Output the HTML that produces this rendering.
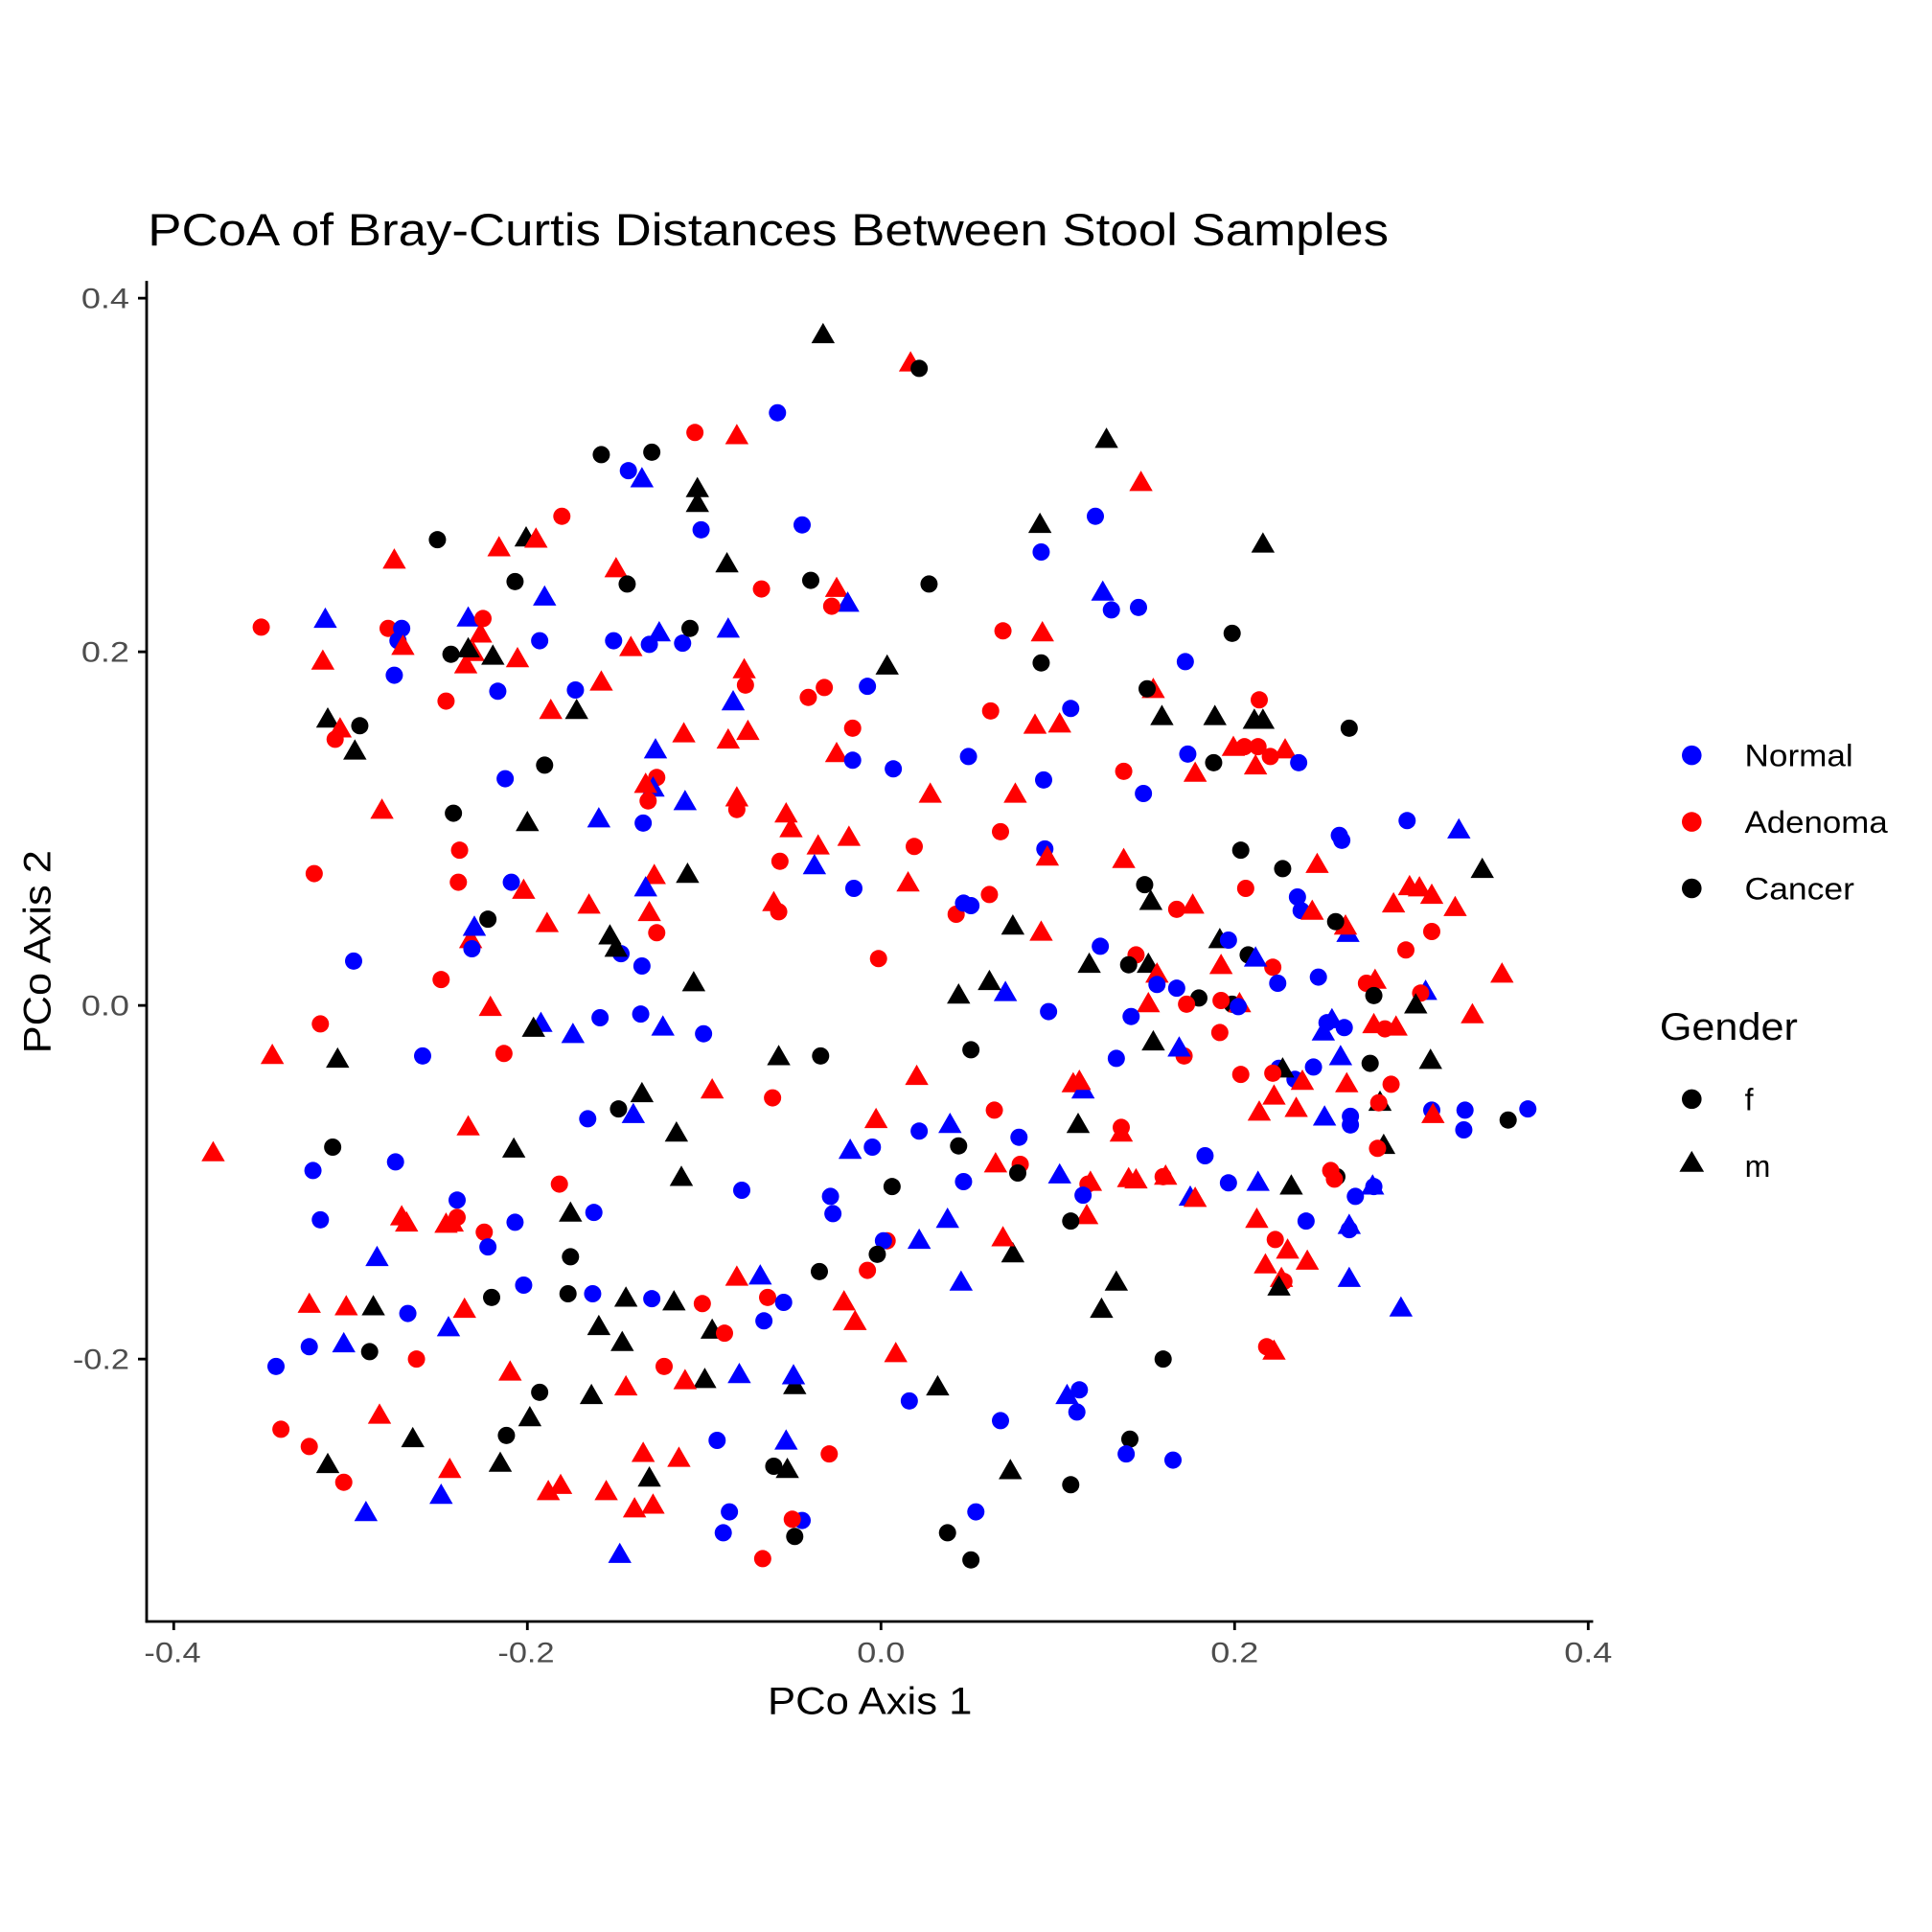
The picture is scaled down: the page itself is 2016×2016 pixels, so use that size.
<!DOCTYPE html>
<html><head><meta charset="utf-8"><style>
html,body{margin:0;padding:0;background:#fff;}
svg{display:block;}
text{font-family:"Liberation Sans",Arial,sans-serif;}
</style></head><body>
<svg id="s" width="2016" height="2016" viewBox="0 0 1568 1568" xmlns="http://www.w3.org/2000/svg">
<rect width="1568" height="1568" fill="#fff"/>
<text x="120" y="199" font-size="37" fill="#000" textLength="1007" lengthAdjust="spacingAndGlyphs">PCoA of Bray-Curtis Distances Between Stool Samples</text>
<g stroke="#000" stroke-width="2.2">
<line x1="119" y1="228" x2="119" y2="1317"/>
<line x1="118" y1="1316" x2="1293" y2="1316"/>
<line x1="112" y1="242" x2="119" y2="242"/><line x1="112" y1="529" x2="119" y2="529"/><line x1="112" y1="816" x2="119" y2="816"/><line x1="112" y1="1103" x2="119" y2="1103"/>
<line x1="141" y1="1316" x2="141" y2="1323"/><line x1="428" y1="1316" x2="428" y2="1323"/><line x1="715" y1="1316" x2="715" y2="1323"/><line x1="1002" y1="1316" x2="1002" y2="1323"/><line x1="1289" y1="1316" x2="1289" y2="1323"/>
</g>
<g font-size="23" fill="#4d4d4d" text-anchor="end">
<text x="105" y="250" textLength="39" lengthAdjust="spacingAndGlyphs">0.4</text><text x="105" y="537" textLength="39" lengthAdjust="spacingAndGlyphs">0.2</text><text x="105" y="824" textLength="39" lengthAdjust="spacingAndGlyphs">0.0</text><text x="105" y="1111" textLength="46" lengthAdjust="spacingAndGlyphs">-0.2</text>
</g>
<g font-size="23" fill="#4d4d4d" text-anchor="middle">
<text x="140" y="1349" textLength="46" lengthAdjust="spacingAndGlyphs">-0.4</text><text x="427" y="1349" textLength="46" lengthAdjust="spacingAndGlyphs">-0.2</text><text x="715" y="1349" textLength="39" lengthAdjust="spacingAndGlyphs">0.0</text><text x="1002" y="1349" textLength="39" lengthAdjust="spacingAndGlyphs">0.2</text><text x="1289" y="1349" textLength="39" lengthAdjust="spacingAndGlyphs">0.4</text>
</g>
<text x="623" y="1391" font-size="31" textLength="166" lengthAdjust="spacingAndGlyphs">PCo Axis 1</text>
<text transform="translate(41,855) rotate(-90)" font-size="31" textLength="165" lengthAdjust="spacingAndGlyphs">PCo Axis 2</text>
<g id="pts"></g>
<circle cx="1373" cy="613" r="8" fill="#0000ff"/><text x="1416" y="622" font-size="25" textLength="88" lengthAdjust="spacingAndGlyphs">Normal</text>
<circle cx="1373" cy="667" r="8" fill="#ff0000"/><text x="1416" y="676" font-size="25" textLength="116" lengthAdjust="spacingAndGlyphs">Adenoma</text>
<circle cx="1373" cy="721" r="8" fill="#000"/><text x="1416" y="730" font-size="25" textLength="89" lengthAdjust="spacingAndGlyphs">Cancer</text>
<text x="1347" y="844" font-size="31" textLength="112" lengthAdjust="spacingAndGlyphs">Gender</text>
<circle cx="1373" cy="892" r="8" fill="#000"/><text x="1416" y="901" font-size="25">f</text>
<polygon points="1373,934 1363,951 1383,951" fill="#000"/><text x="1416" y="955" font-size="25">m</text>
</svg>
<script>
var d="kt 668 272,rt 739 295,kc 746 299,bc 631 335,rc 564 351,rt 598 354,kt 898 357,kc 488 369,kc 529 367,bc 510 382,bt 521 389,rt 926 392,kt 566 397,kt 566 409,bc 569 430,bc 651 426,kt 844 426,bc 889 419,kc 355 438,kt 427 437,rt 435 438,rt 405 445,kt 1025 442,bc 845 448,rc 456 419,rt 320 455,rt 500 462,kc 509 474,kt 590 458,kc 658 471,kc 754 474,rt 679 478,rc 618 478,bt 442 485,kc 418 472,bt 688 490,rc 675 492,bt 895 481,bc 902 495,bc 924 493,rc 212 509,bt 264 503,rc 315 510,bc 326 510,bc 323 520,rt 327 525,bt 380 502,rc 392 502,rt 390 515,rt 384 530,kc 366 531,kt 400 533,rt 420 535,bc 438 520,bc 498 520,bt 535 514,bc 527 523,bc 554 522,rt 512 526,kc 560 510,bt 591 511,rc 814 512,rt 846 514,kc 1000 514,rt 262 537,bc 320 548,rt 378 540,kt 380 527,bc 404 561,kc 845 538,bc 962 537,rt 936 560,kc 931 559,rt 604 544,rc 605 556,rc 669 558,kt 720 541,rc 656 566,rt 488 554,rc 362 569,bc 467 560,kt 468 577,bt 595 570,bc 704 557,rc 804 577,kt 943 582,kt 986 582,kt 1018 585,rc 1022 568,kc 1095 591,rt 860 588,rt 840 589,kt 266 584,rt 276 592,rc 272 600,kc 292 589,rt 447 577,rt 555 596,rt 607 594,rc 692 591,kt 288 610,bt 532 609,rt 591 601,rc 1010 606,rt 1001 607,rc 1021 606,rc 1031 614,kc 985 619,rt 1043 609,rt 1019 622,rt 970 628,bc 964 612,bc 1054 619,bc 786 614,rt 679 612,bc 725 624,bc 692 617,rc 533 631,rc 912 626,kc 442 621,bc 410 632,rt 755 645,bt 530 640,rc 526 650,rt 524 637,rc 598 657,rt 598 648,bt 556 651,bc 847 633,bc 928 644,rt 310 658,kc 368 660,kt 428 668,bt 486 665,bc 522 668,rt 638 661,rt 642 673,rc 812 675,rt 824 645,bc 869 575,kt 1025 585,bc 1142 666,bt 1184 674,bc 1087 678,bc 1089 682,rc 373 690,rc 633 699,rc 742 687,rt 664 687,rt 689 680,kc 1007 690,bc 848 689,rt 850 696,rt 1069 702,kc 1041 705,kt 1203 706,rt 912 698,rc 255 709,bt 661 703,rc 372 716,bc 415 716,kt 558 710,rt 531 711,bc 693 721,rt 737 717,rc 1011 721,kc 929 718,rt 425 723,bt 524 721,rc 803 726,bc 1053 728,rt 1152 721,rt 1144 720,rt 1131 734,rt 1162 727,rt 478 735,rt 628 733,rc 632 740,rc 776 742,bc 782 733,bc 788 735,rc 955 738,rt 968 735,kt 934 732,kc 396 746,rt 444 750,kt 822 752,rt 527 741,rc 533 757,bt 1094 758,rt 1092 752,kc 1084 748,bc 1056 739,rt 1065 740,rc 1162 756,rt 1181 737,rt 382 763,bt 385 753,bc 383 770,kt 495 760,bc 504 774,rt 845 757,bc 287 780,bc 893 768,rc 713 778,kt 563 798,kt 500 770,bc 521 784,kt 884 783,rc 922 775,kc 916 783,kt 932 783,rt 939 791,bc 939 799,kc 973 810,bc 955 802,rc 963 815,rt 991 784,kt 990 763,bc 997 763,rc 1033 785,kc 1013 775,bc 1037 798,bt 1019 778,bc 1070 793,rc 1109 798,rt 1116 796,kc 1115 808,rc 1141 771,bt 1157 805,rc 1153 806,kt 1149 816,rt 1219 791,rt 1195 824,rc 358 795,bt 816 806,kt 803 797,kt 778 808,rc 260 831,bc 571 839,bt 439 831,kt 433 835,bt 465 840,bc 487 826,bc 520 823,bt 538 834,rt 398 818,rt 932 815,bc 918 825,bc 851 821,kc 1000 815,rc 991 812,rt 1006 815,bc 1005 817,kc 788 852,kc 666 857,kt 632 858,kt 936 846,rc 961 857,bc 906 859,bt 957 851,rc 990 838,rt 1115 832,rc 1124 835,rt 1133 834,bc 1077 830,bt 1081 828,bt 1074 838,bc 1091 834,bt 1088 858,bc 1066 866,bc 1038 867,bc 1051 876,kt 1041 868,kc 1112 863,kt 1161 861,rt 221 857,kt 274 860,bc 343 857,rc 409 855,rt 578 885,rc 627 891,rc 1033 871,rt 744 874,rc 807 901,rt 871 880,bt 879 885,rt 876 878,rc 1007 872,rc 1129 880,rt 1093 880,rt 1057 878,rt 1034 890,rt 1022 903,rt 1052 900,kc 502 900,kt 521 888,bt 514 905,bc 477 908,bt 1075 907,bc 1096 913,bc 1096 906,kt 1120 895,kt 1123 930,bc 1162 901,bc 1188 917,bc 1189 901,kc 1224 909,bc 1240 900,rt 1163 905,rc 1119 895,kt 875 913,rc 910 915,rt 910 920,rt 711 909,bc 746 918,bt 771 913,bc 827 923,kc 778 930,bc 708 931,bt 690 934,kt 549 920,rt 380 915,rt 173 936,kc 270 931,bc 254 950,bc 321 943,kt 417 933,rc 1118 932,bt 860 954,rc 828 945,rt 808 945,kc 826 952,kt 553 956,rc 454 961,bc 602 966,kc 724 963,bc 782 959,kc 1085 955,rc 1080 950,rc 1083 957,bc 1115 963,bt 1114 963,bc 1100 971,kt 1048 963,bt 1021 960,bc 978 938,bc 997 960,rt 946 955,rt 916 957,rt 922 958,rc 944 955,rt 885 960,rc 883 961,bc 879 970,rt 882 987,kc 869 991,bc 674 971,bc 676 985,bt 966 972,rt 970 973,bc 260 990,bc 371 974,bc 482 984,kt 463 985,rc 371 988,rt 326 988,rt 330 993,rt 367 993,rt 362 994,bc 418 992,rc 393 1000,rt 1020 990,bt 769 990,bc 1060 991,bt 1095 995,bc 1095 998,rc 1035 1006,rt 1045 1015,rt 1061 1024,rt 1027 1027,rt 1040 1038,rc 1042 1040,kt 1038 1045,rc 720 1007,bt 746 1007,bc 717 1007,kt 822 1018,rt 814 1005,bc 396 1012,bt 306 1021,kc 463 1020,bc 425 1043,bc 529 1054,kt 547 1057,bt 617 1036,kc 665 1032,rt 598 1037,kc 712 1018,rc 704 1031,kt 906 1041,bt 780 1041,bt 1095 1038,kc 399 1053,bc 331 1066,kt 303 1061,rt 251 1059,rt 281 1061,rt 377 1063,bt 364 1078,bc 481 1050,kt 486 1077,kt 508 1054,kc 461 1050,rc 570 1058,rc 623 1053,kt 578 1080,rc 588 1082,rt 685 1057,rt 694 1073,kt 894 1063,bc 636 1057,bc 620 1072,kc 300 1097,bc 251 1093,bt 279 1091,rc 338 1103,kt 505 1090,rt 414 1114,bc 224 1109,rc 539 1109,kc 944 1103,rt 1034 1097,rc 1028 1093,rt 727 1099,bt 1137 1062,kt 572 1120,rt 556 1121,kt 761 1126,bt 600 1116,bc 738 1137,kt 645 1125,bt 644 1117,kc 438 1130,rt 508 1126,kt 480 1133,kt 430 1151,bt 866 1133,bc 876 1128,bc 874 1146,rt 308 1149,kt 335 1168,rc 228 1160,rc 251 1174,kc 411 1165,bc 582 1169,bt 638 1170,bc 812 1153,kc 917 1168,bc 914 1180,bc 952 1185,rc 673 1180,rt 522 1180,rt 551 1184,kt 266 1189,kt 406 1188,rt 365 1193,kc 628 1190,kt 639 1193,kt 820 1194,rc 279 1203,bt 297 1228,bt 358 1214,kt 527 1200,rt 445 1211,rt 455 1206,rt 492 1211,rt 515 1225,rt 530 1222,kc 869 1205,bc 592 1227,bc 587 1244,bc 651 1234,rc 643 1233,kc 645 1247,bc 792 1227,kc 769 1244,kc 788 1266,rc 619 1265,bt 503 1262";
var col={b:"#0000ff",r:"#ff0000",k:"#000000"},h="";
d.split(",").forEach(function(s){var p=s.split(" "),c=col[p[0][0]],x=+p[1],y=+p[2];
if(p[0][1]=="c")h+='<circle cx="'+x+'" cy="'+y+'" r="7" fill="'+c+'"/>';
else h+='<polygon points="'+x+','+(y-10)+' '+(x-9.5)+','+(y+6.5)+' '+(x+9.5)+','+(y+6.5)+'" fill="'+c+'"/>';});
document.getElementById("pts").innerHTML=h;
</script>
</body></html>
